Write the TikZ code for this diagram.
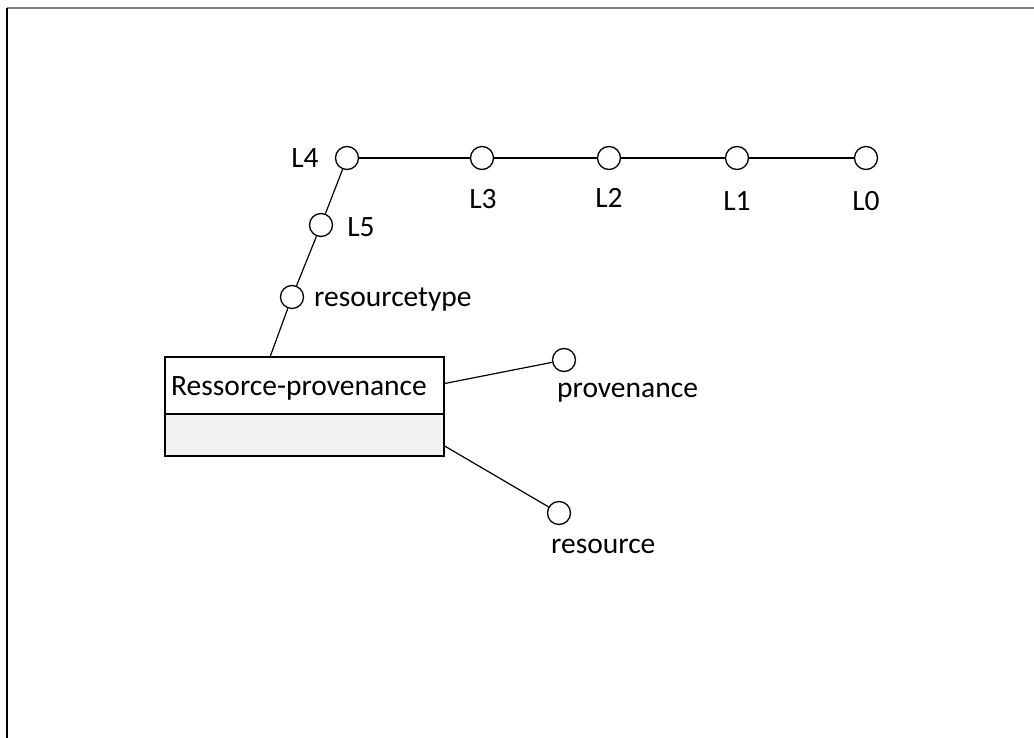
\documentclass[tikz,border=0pt]{standalone}
\usepackage{fontspec}
\setmainfont{Carlito}
\usetikzlibrary{calc}
\begin{document}
\begin{tikzpicture}[x=1pt,y=-1pt,
  port/.style={circle,draw=black,fill=white,line width=1.3pt,minimum size=23pt,inner sep=0pt},
  link/.style={draw=black,line width=1.2pt},
  lbl/.style={inner sep=0pt,font=\fontsize{29.5}{34}\selectfont},
  classbox/.style={draw=black,line width=1.3pt,inner sep=0pt,minimum width=279pt}]
  \useasboundingbox (0,0) rectangle (1034,738);
  % page frame
  \draw[line width=2pt,draw=gray] (7,8.5) -- (1034,8.5);
  \draw[line width=1.6pt,draw=black] (7,8) -- (7,738);

  % class box
  \node[classbox,fill=white,minimum height=57pt] (box) at (304.5,385.5) {};
  \node[classbox,fill=black!5,minimum height=42pt] (boxlow) at (304.5,435) {};
  \node[lbl,anchor=west] (title) at (171,388) {Ressorce-provenance};

  % ports
  \node[port] (L4) at (347,158) {};
  \node[port] (L3) at (482,158) {};
  \node[port] (L2) at (609,158) {};
  \node[port] (L1) at (737,158) {};
  \node[port] (L0) at (866,158) {};
  \node[port] (L5) at (321,225) {};
  \node[port] (rt) at (292,297) {};
  \node[port] (prov) at (564,360) {};
  \node[port] (res) at (559,513) {};

  \coordinate (boxtop) at (270,357);
  \coordinate (boxres) at ([yshift=-11pt]boxlow.east);
  \coordinate (boxprov) at ([yshift=2pt]box.east);

  % connectors
  \draw[link] (L4) -- (L3) -- (L2) -- (L1) -- (L0);
  \draw[link] (L4) -- (L5);
  \draw[link] (L5) -- (rt);
  \draw[link] (rt) -- (boxtop);
  \draw[link] (boxprov) -- (prov);
  \draw[link] (boxres) -- (res);

  % labels
  \node[lbl] (tL4) at (305,158) {L4};
  \node[lbl] (tL3) at (483,199) {L3};
  \node[lbl] (tL2) at (609,198) {L2};
  \node[lbl] (tL1) at (737,201) {L1};
  \node[lbl] (tL0) at (866,201) {L0};
  \node[lbl] (tL5) at (361,227) {L5};
  \node[lbl,anchor=west] (trt) at (314,300) {resourcetype};
  \node[lbl,anchor=west] (tprov) at (557,393) {provenance};
  \node[lbl,anchor=west] (tres) at (551,546) {resource};
\end{tikzpicture}
\end{document}
